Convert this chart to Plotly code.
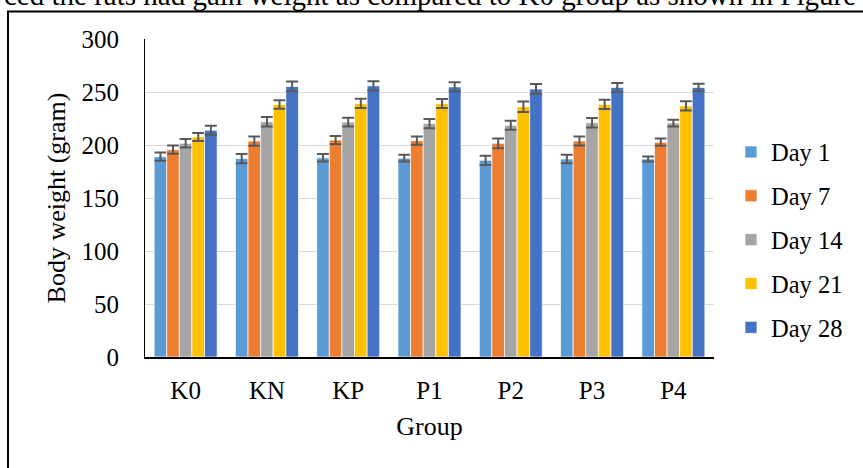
import plotly.graph_objects as go

groups = ["K0", "KN", "KP", "P1", "P2", "P3", "P4"]
series_names = ["Day 1", "Day 7", "Day 14", "Day 21", "Day 28"]
day1 = [189.0, 187.2, 187.9, 187.6, 185.5, 186.8, 186.8]
day7 = [195.6, 203.7, 204.7, 204.1, 201.6, 203.8, 202.7]
day14 = [201.6, 221.9, 221.6, 220.2, 218.6, 221.0, 220.7]
day21 = [207.5, 238.2, 239.2, 239.1, 236.1, 238.3, 236.9]
day28 = [213.9, 255.3, 255.8, 254.8, 252.8, 254.3, 254.3]
err1 = [3.9, 4.4, 3.5, 3.2, 4.3, 3.9, 2.4]
err7 = [3.9, 4.4, 3.9, 3.9, 4.6, 4.3, 3.5]
err14 = [4.0, 4.4, 4.1, 4.3, 4.3, 4.4, 3.2]
err21 = [3.8, 3.9, 4.4, 4.3, 5.0, 4.4, 4.3]
err28 = [4.3, 4.7, 4.3, 4.3, 4.7, 4.3, 3.6]
y_ticks = [0, 50, 100, 150, 200, 250, 300]
colors = ["#5B9BD5", "#ED7D31", "#A5A5A5", "#FFC000", "#4472C4"]

values = [day1, day7, day14, day21, day28]
errors = [err1, err7, err14, err21, err28]

FONT = "Liberation Serif, Times New Roman, serif"

fig = go.Figure()
for name, vals, errs, col in zip(series_names, values, errors, colors):
    fig.add_trace(go.Bar(
        x=groups, y=vals, name=name, legendgroup=name,
        marker=dict(color=col, line=dict(color="white", width=0.7)),
        error_y=dict(type="data", array=errs, visible=True,
                     color="#595959", thickness=2, width=6),
    ))

# body margin is removed by post_script, so figure fills the page 0..863 x 0..468
W, H = 863, 468
L, T = 145, 39
R = W - 714
B = H - 357
pw, ph = W - L - R, H - T - B

def px_x(p):  # p in page pixels
    return (p - L) / pw

def px_y(p):
    return (H - B - p) / ph

fig.update_layout(
    width=W, height=H,
    margin=dict(l=L, r=R, t=T, b=B, autoexpand=False),
    paper_bgcolor="white", plot_bgcolor="white",
    font=dict(family=FONT, color="black", size=25),
    barmode="group", bargap=0.225, bargroupgap=0,
    showlegend=True,
    legend=dict(x=px_x(731), xanchor="left", y=px_y(240), yanchor="middle",
                font=dict(family=FONT, size=24.5, color="black"),
                tracegroupgap=9, bgcolor="rgba(0,0,0,0)"),
    xaxis=dict(showline=True, linecolor="black", linewidth=1.5,
               ticks="", ticklabelstandoff=10,
               tickfont=dict(family=FONT, size=25),
               title=dict(text="Group", font=dict(family=FONT, size=26), standoff=14)),
    yaxis=dict(range=[0, 300], tickvals=y_ticks, showgrid=True,
               gridcolor="#D9D9D9", gridwidth=1,
               showline=True, linecolor="black", linewidth=1,
               ticks="", ticklabelstandoff=20, zeroline=False,
               tickfont=dict(family=FONT, size=25),
               title=dict(text="Body weight (gram)", font=dict(family=FONT, size=26), standoff=8)),
    shapes=[dict(type="rect", xref="paper", yref="paper",
                 x0=px_x(8), x1=px_x(920), y0=px_y(520), y1=px_y(11.5),
                 line=dict(color="black", width=2), fillcolor="rgba(0,0,0,0)", layer="above")],
    annotations=[dict(text="ced the rats had gain weight as compared to K0 group as shown in Figure",
                      xref="paper", yref="paper", x=px_x(858), xanchor="right",
                      y=px_y(13), yanchor="bottom", showarrow=False,
                      font=dict(family=FONT, size=29, color="black"))],
)

fig.write_html("out.html", config={"displayModeBar": False},
               post_script="document.body.style.margin='0';")
